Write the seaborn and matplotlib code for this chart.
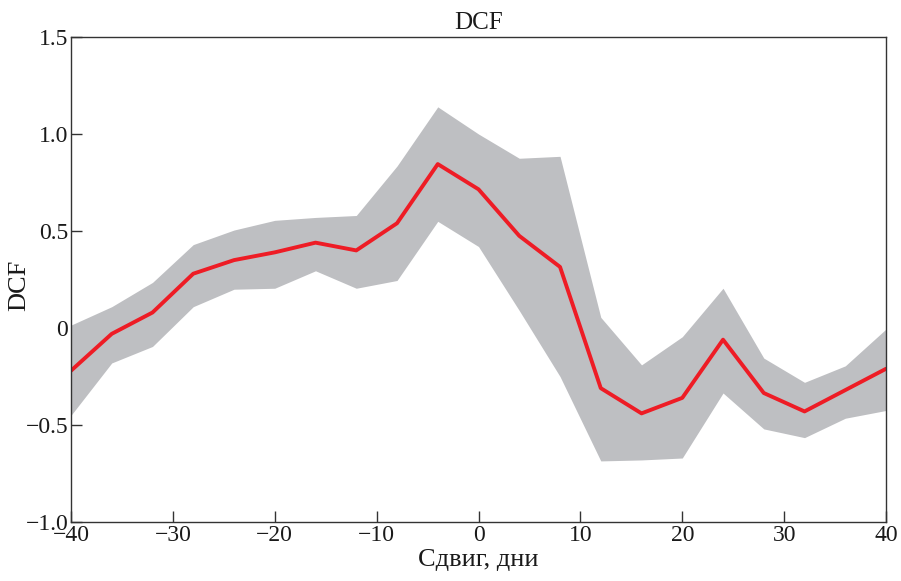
import numpy as np
import pandas as pd
import matplotlib
matplotlib.use("Agg")
import matplotlib.pyplot as plt
import seaborn as sns

# shift values (days) and DCF with its error band
lag = [-40, -36, -32, -28, -24, -20, -16, -12, -8, -4, 0,
       4, 8, 12, 16, 20, 24, 28, 32, 36, 40]
dcf = [-0.22, -0.03, 0.08, 0.28, 0.35, 0.39, 0.44, 0.40, 0.54, 0.845, 0.715,
       0.475, 0.315, -0.31, -0.44, -0.36, -0.06, -0.335, -0.43, -0.32, -0.21]
dcf_hi = [0.015, 0.11, 0.235, 0.43, 0.505, 0.555, 0.57, 0.58, 0.835, 1.14, 1.0,
          0.875, 0.885, 0.055, -0.19, -0.045, 0.205, -0.155, -0.28, -0.195, -0.005]
dcf_lo = [-0.45, -0.18, -0.095, 0.11, 0.20, 0.205, 0.295, 0.205, 0.245, 0.55, 0.42,
          0.09, -0.25, -0.685, -0.68, -0.67, -0.335, -0.52, -0.565, -0.465, -0.425]

df = pd.DataFrame({"lag": lag, "dcf": dcf, "hi": dcf_hi, "lo": dcf_lo})

sns.set_style("white")
plt.rcParams['font.family'] = ['Liberation Serif', 'DejaVu Serif']

fig = plt.figure(figsize=(9.01, 5.81), dpi=100)
ax = fig.add_axes([0.0788, 0.1015, 0.9046, 0.8348])

ax.fill_between(df["lag"], df["lo"], df["hi"], color="#bebfc2", linewidth=0, zorder=1)
sns.lineplot(data=df, x="lag", y="dcf", color="#ee1c25", linewidth=2.8, ax=ax, zorder=2)

ax.set_xlim(-40, 40)
ax.set_ylim(-1.0, 1.5)
ax.set_xticks(np.arange(-40, 41, 10))
ax.set_yticks([-1.0, -0.5, 0, 0.5, 1.0, 1.5])
ax.set_yticklabels(["\u22121.0", "\u22120.5", "0", "0.5", "1.0", "1.5"])
ax.set_xticklabels([("\u2212%d" % -v) if v < 0 else str(v) for v in range(-40, 41, 10)])

for s in ax.spines.values():
    s.set_color("#333333")
    s.set_linewidth(1.0)

ax.tick_params(axis='both', direction='in', length=8, width=1, colors="#333333",
               labelsize=17, labelcolor="#1a1a1a", pad=2)
ax.tick_params(axis='both', top=False, right=False, bottom=True, left=True)

ax.set_title("DCF", fontsize=18, pad=6, color="#1a1a1a")
ax.set_xlabel("Сдвиг, дни", fontsize=19, labelpad=2, color="#1a1a1a")
ax.set_ylabel("DCF", fontsize=19, color="#1a1a1a")
ax.yaxis.set_label_coords(-0.05, 0.489)

fig.savefig("out.png", dpi=100)
